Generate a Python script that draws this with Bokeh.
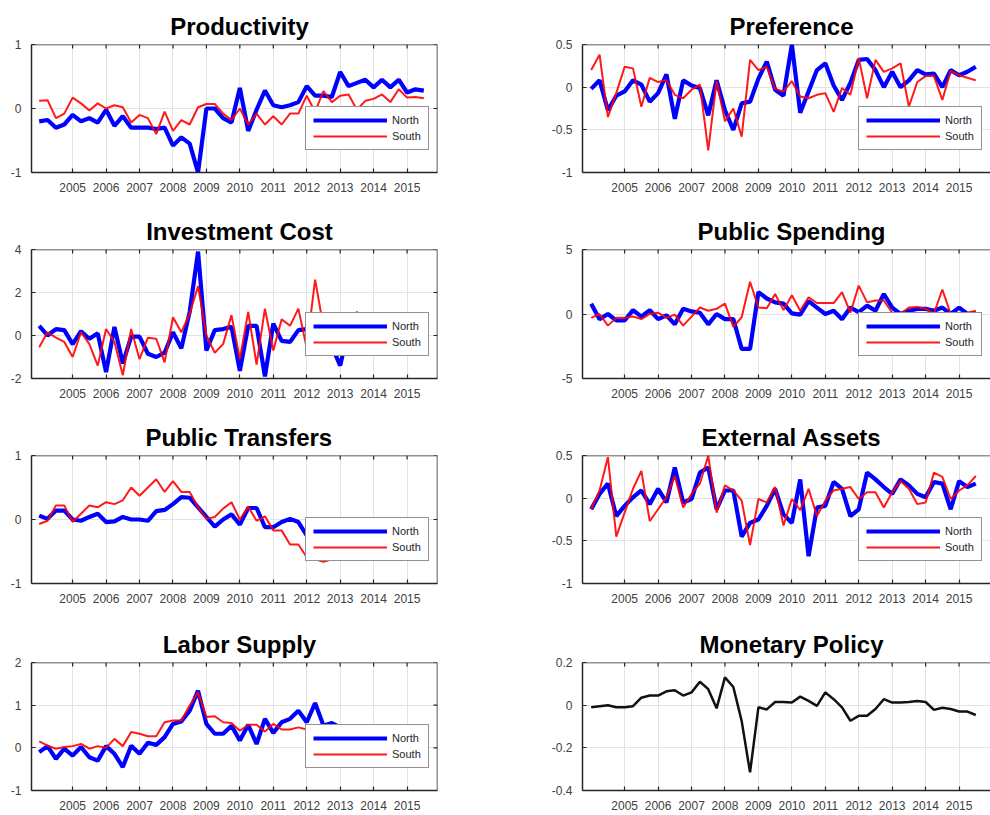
import math
from bokeh.plotting import figure
from bokeh.models import Range1d, FixedTicker, Legend, LegendItem, Span
from bokeh.layouts import column, row
from bokeh.embed import file_html
from bokeh.resources import INLINE

# ---------------- data ----------------
quarters = [2004.0 + 0.25 * i for i in range(47)]   # 2004Q1 ... 2015Q3
year_ticks = [2005, 2006, 2007, 2008, 2009, 2010, 2011, 2012, 2013, 2014, 2015]
year_labels = ["2005", "2006", "2007", "2008", "2009", "2010", "2011", "2012", "2013", "2014", "2015"]

prod_north = [-0.20, -0.18, -0.30, -0.25, -0.10, -0.20, -0.15, -0.22, -0.02, -0.27, -0.12, -0.30, -0.30, -0.30, -0.32, -0.30,
              -0.58, -0.45, -0.55, -1.00, 0.00, 0.00, -0.15, -0.22, 0.32, -0.35, -0.02, 0.28, 0.05, 0.02, 0.05, 0.10,
              0.35, 0.20, 0.20, 0.18, 0.57, 0.35, 0.40, 0.45, 0.33, 0.45, 0.33, 0.45, 0.25, 0.30, 0.28]
prod_south = [0.12, 0.13, -0.15, -0.08, 0.17, 0.08, -0.03, 0.08, 0.00, 0.05, 0.02, -0.22, -0.10, -0.15, -0.40, -0.05,
              -0.35, -0.18, -0.25, 0.02, 0.07, 0.07, -0.08, -0.18, 0.00, -0.25, -0.08, -0.25, -0.12, -0.25, -0.08, -0.08,
              0.20, -0.05, 0.27, 0.10, 0.20, 0.22, -0.02, 0.12, 0.15, 0.22, 0.10, 0.30, 0.17, 0.18, 0.16]

pref_north = [-0.02, 0.08, -0.27, -0.10, -0.05, 0.08, 0.03, -0.17, -0.07, 0.15, -0.37, 0.08, 0.02, -0.01, -0.33, 0.08,
              -0.27, -0.50, -0.19, -0.17, 0.10, 0.30, -0.03, -0.10, 0.50, -0.30, -0.05, 0.20, 0.28, 0.02, -0.15, 0.05,
              0.32, 0.33, 0.20, 0.00, 0.18, 0.00, 0.08, 0.20, 0.15, 0.16, 0.00, 0.20, 0.14, 0.18, 0.24]
pref_south = [0.20, 0.38, -0.35, -0.07, 0.24, 0.22, -0.23, 0.11, 0.06, 0.08, -0.09, -0.13, -0.03, 0.03, -0.74, 0.07,
              -0.40, -0.25, -0.58, 0.32, 0.20, 0.24, -0.02, -0.05, 0.07, -0.11, -0.13, -0.09, -0.07, -0.29, -0.01, -0.09,
              0.34, -0.13, 0.32, 0.18, 0.22, 0.28, -0.23, 0.06, 0.13, 0.13, -0.15, 0.19, 0.14, 0.11, 0.08]

inv_north = [0.45, 0.00, 0.30, 0.25, -0.40, 0.20, -0.15, 0.10, -1.70, 0.40, -1.30, -0.05, -0.05, -0.85, -1.00, -0.80,
             0.15, -0.60, 1.10, 3.90, -0.70, 0.25, 0.30, 0.40, -1.65, 0.45, 0.45, -1.90, 0.55, -0.25, -0.30, 0.25,
             0.30, 0.20, 0.00, -0.50, -1.40, 0.30, 0.00, 0.20, -0.20, 0.10, 0.30, -0.10, 0.20, 0.00, 0.10]
inv_south = [-0.55, 0.15, -0.10, -0.30, -1.00, 0.15, -0.40, -1.40, 0.30, -0.30, -1.85, 0.30, -1.10, -0.10, -0.15, -1.25,
             0.85, 0.15, 1.00, 2.30, 0.00, -0.80, -0.40, 0.95, -1.10, 1.10, -1.35, 1.25, -0.70, 0.75, 0.45, 1.25,
             -0.60, 2.60, 0.40, -0.20, 0.30, 0.60, 1.10, 0.40, 0.00, 0.30, -0.20, 0.20, 0.50, 0.10, 0.30]

ps_north = [0.80, -0.40, 0.00, -0.50, -0.50, 0.30, -0.20, 0.30, -0.40, -0.10, -0.80, 0.40, 0.20, 0.10, -0.80, 0.00,
            -0.40, -0.40, -2.70, -2.70, 1.70, 1.20, 0.90, 0.80, 0.05, -0.05, 1.00, 0.50, 0.00, 0.25, -0.40, 0.50,
            0.15, 0.65, 0.25, 1.55, 0.50, 0.00, 0.25, 0.40, 0.40, 0.25, 0.50, 0.00, 0.50, 0.00, 0.10]
ps_south = [-0.30, 0.00, -0.90, -0.30, -0.30, -0.20, -0.40, 0.00, 0.10, -0.30, -0.05, -0.90, -0.20, 0.50, 0.25, 0.40,
            0.80, -1.00, -0.25, 2.50, 0.50, 0.45, 1.55, 0.30, 1.45, 0.25, 1.30, 0.85, 0.85, 0.85, 1.70, 0.10,
            2.20, 0.90, 1.05, 1.05, 0.10, 0.00, 0.50, 0.55, 0.40, 0.05, 1.90, 0.00, 0.00, 0.10, 0.25]

pt_north = [0.06, 0.01, 0.14, 0.14, 0.00, -0.02, 0.04, 0.09, -0.04, -0.03, 0.04, 0.00, 0.00, -0.02, 0.13, 0.15,
            0.24, 0.35, 0.34, 0.19, 0.04, -0.11, 0.00, 0.08, -0.08, 0.18, 0.18, -0.12, -0.12, -0.04, 0.01, -0.04,
            -0.25, -0.30, -0.35, -0.38, -0.40, -0.42, -0.43, -0.45, -0.46, -0.47, -0.48, -0.48, -0.49, -0.50, -0.50]
pt_south = [-0.07, -0.02, 0.22, 0.22, -0.04, 0.09, 0.22, 0.19, 0.27, 0.24, 0.30, 0.50, 0.37, 0.50, 0.63, 0.43,
            0.60, 0.43, 0.43, 0.19, 0.01, 0.04, 0.17, 0.27, 0.00, 0.20, -0.02, 0.05, -0.17, -0.17, -0.39, -0.39,
            -0.59, -0.62, -0.66, -0.62, -0.60, -0.60, -0.58, -0.58, -0.55, -0.55, -0.55, -0.53, -0.52, -0.50, -0.50]

ea_north = [-0.13, 0.05, 0.17, -0.21, -0.09, 0.01, 0.09, -0.07, 0.11, -0.05, 0.36, -0.05, -0.01, 0.30, 0.36, -0.13,
            0.09, 0.09, -0.45, -0.29, -0.25, -0.09, 0.11, -0.19, -0.29, 0.22, -0.68, -0.11, -0.09, 0.19, 0.11, -0.21,
            -0.13, 0.30, 0.22, 0.13, 0.05, 0.22, 0.15, 0.05, 0.01, 0.19, 0.17, -0.13, 0.20, 0.13, 0.17]
ea_south = [-0.13, 0.09, 0.48, -0.45, -0.17, 0.11, 0.32, -0.27, -0.13, 0.01, 0.26, -0.11, 0.05, 0.17, 0.50, -0.17,
            0.15, 0.09, -0.03, -0.55, -0.01, -0.05, 0.13, -0.32, -0.01, -0.14, 0.11, -0.21, -0.03, 0.09, 0.11, 0.13,
            -0.01, 0.07, 0.07, -0.11, 0.07, 0.20, 0.11, -0.07, -0.05, 0.30, 0.25, -0.01, 0.09, 0.15, 0.26]

ls_north = [-0.10, 0.04, -0.26, -0.02, -0.18, 0.02, -0.22, -0.30, 0.04, -0.14, -0.45, 0.05, -0.14, 0.12, 0.07, 0.25,
            0.56, 0.62, 0.87, 1.34, 0.56, 0.33, 0.33, 0.52, 0.17, 0.54, 0.09, 0.68, 0.35, 0.60, 0.68, 0.87,
            0.60, 1.05, 0.52, 0.58, 0.48, 0.40, 0.30, 0.35, 0.20, 0.25, 0.15, 0.20, 0.10, 0.15, 0.10]
ls_south = [0.15, 0.05, -0.02, 0.02, 0.04, 0.09, -0.02, 0.04, 0.00, 0.21, 0.04, 0.37, 0.33, 0.27, 0.27, 0.60,
            0.64, 0.64, 0.99, 1.30, 0.72, 0.74, 0.60, 0.58, 0.40, 0.54, 0.54, 0.38, 0.56, 0.43, 0.43, 0.48,
            0.43, 0.40, 0.42, 0.38, 0.40, 0.35, 0.36, 0.33, 0.30, 0.30, 0.28, 0.25, 0.25, 0.22, 0.20]

monetary = [-0.010, -0.005, 0.000, -0.010, -0.010, -0.005, 0.035, 0.045, 0.045, 0.065, 0.070, 0.045, 0.060, 0.110, 0.075, -0.015,
            0.130, 0.085, -0.075, -0.315, -0.010, -0.020, 0.015, 0.015, 0.012, 0.040, 0.020, -0.003, 0.060, 0.028, -0.010, -0.073,
            -0.050, -0.050, -0.018, 0.028, 0.012, 0.012, 0.015, 0.020, 0.015, -0.022, -0.012, -0.018, -0.030, -0.030, -0.046]

# y axis: ticks (first/last = limits) and tick labels per panel
prod_yticks, prod_ylabels = [-1, 0, 1], ["-1", "0", "1"]
pref_yticks, pref_ylabels = [-1, -0.5, 0, 0.5], ["-1", "-0.5", "0", "0.5"]
inv_yticks, inv_ylabels = [-2, 0, 2, 4], ["-2", "0", "2", "4"]
ps_yticks, ps_ylabels = [-5, 0, 5], ["-5", "0", "5"]
pt_yticks, pt_ylabels = [-1, 0, 1], ["-1", "0", "1"]
ea_yticks, ea_ylabels = [-1, -0.5, 0, 0.5], ["-1", "-0.5", "0", "0.5"]
ls_yticks, ls_ylabels = [-1, 0, 1, 2], ["-1", "0", "1", "2"]
mp_yticks, mp_ylabels = [-0.4, -0.2, 0, 0.2], ["-0.4", "-0.2", "0", "0.2"]

series_names = ["North", "South"]

# ---------------- styling ----------------
FONT = "Liberation Sans"
TITLE_PX = 24
AX_COLOR = "#262626"
LBL_COLOR = "#404040"
GRID_COLOR = "#e3e3e3"

# advance widths (1/1000 em) of Liberation Sans Bold, used to centre titles with an offset
BOLD_W = {" ": 278, "A": 722, "C": 722, "E": 667, "I": 278, "L": 611, "M": 833, "P": 667, "S": 667, "T": 611,
          "a": 556, "b": 611, "c": 556, "d": 611, "e": 556, "f": 333, "g": 611, "i": 278, "l": 278, "m": 889,
          "n": 611, "o": 611, "p": 611, "r": 389, "s": 556, "t": 333, "u": 611, "v": 556, "x": 556, "y": 556}

ROW_SPECS = [  # (height, top border, bottom border)
    (206, 44, 34),
    (206, 43, 34),
    (206, 43, 35),
    (197, 44, 25),
]


def style_axis(ax, standoff=10):
    ax.axis_line_color = AX_COLOR
    ax.axis_line_width = 1.5
    ax.major_tick_line_color = AX_COLOR
    ax.major_tick_line_width = 1.2
    ax.major_tick_in = 4
    ax.major_tick_out = 0
    ax.minor_tick_line_color = None
    ax.major_label_text_font = FONT
    ax.major_label_text_color = LBL_COLOR
    ax.major_label_text_font_size = "12px"
    ax.major_label_standoff = standoff


def make_panel(title, yticks, ylabels, north=None, south=None, single=None, col=0, rowi=0):
    h, mbt, mbb = ROW_SPECS[rowi]
    if col == 0:
        w, mbl, mbr = 447, 31, 10
        xr = Range1d(2003.77, 2015.91)
        title_c = 208
        leg_x = 274
    else:
        w, mbl, mbr = 543, 135, 0
        xr = Range1d(2003.74, 2015.94)
        title_c = 209
        leg_x = 276
    p = figure(width=w, height=h, x_range=xr, y_range=Range1d(yticks[0], yticks[-1]),
               toolbar_location=None, output_backend="svg",
               min_border_left=mbl, min_border_right=mbr, min_border_top=mbt, min_border_bottom=mbb,
               background_fill_color="white", border_fill_color="white", outline_line_color=None)
    tw = sum(BOLD_W.get(ch, 556) for ch in title) / 1000.0 * TITLE_PX
    p.title.text = title
    p.title.align = "left"
    p.title.offset = title_c - tw / 2.0
    p.title.text_font = FONT
    p.title.text_font_size = "%dpx" % TITLE_PX
    p.title.text_font_style = "bold"
    p.title.text_color = "#000000"
    p.title.standoff = 10

    p.xaxis.ticker = FixedTicker(ticks=year_ticks)
    p.xaxis.major_label_overrides = {t: s for t, s in zip(year_ticks, year_labels)}
    p.yaxis.ticker = FixedTicker(ticks=yticks)
    p.yaxis.major_label_overrides = {t: s for t, s in zip(yticks, ylabels)}
    style_axis(p.xaxis[0], 10)
    style_axis(p.yaxis[0], 10)

    p.xgrid.ticker = FixedTicker(ticks=year_ticks)
    p.ygrid.ticker = FixedTicker(ticks=yticks)
    for g in (p.xgrid[0], p.ygrid[0]):
        g.grid_line_color = GRID_COLOR
        g.grid_line_width = 1

    # box: top edge (and right edge for left column), with inward ticks
    p.add_layout(Span(location=yticks[-1], dimension="width", line_color=AX_COLOR, line_width=1.5))
    p.ray(x=year_ticks, y=[yticks[-1]] * len(year_ticks), length=4, length_units="screen",
          angle=-math.pi / 2, line_color=AX_COLOR, line_width=1.2)
    if col == 0:
        p.add_layout(Span(location=xr.end, dimension="height", line_color=AX_COLOR, line_width=1.5))
        p.ray(x=[xr.end] * len(yticks), y=yticks, length=4, length_units="screen",
              angle=math.pi, line_color=AX_COLOR, line_width=1.2)

    if single is not None:
        p.line(quarters, single, line_color="#111111", line_width=2.5)
    else:
        rn = p.line(quarters, north, line_color="#0000ff", line_width=4.2)
        rs = p.line(quarters, south, line_color="#ff0000", line_width=2, line_alpha=0.9)
        leg = Legend(items=[LegendItem(label=series_names[0], renderers=[rn]),
                            LegendItem(label=series_names[1], renderers=[rs])],
                     location=(leg_x, 22),
                     border_line_color=AX_COLOR, border_line_width=1.5,
                     background_fill_color="white", background_fill_alpha=1.0,
                     label_text_font=FONT, label_text_font_size="11px", label_text_color="#262626",
                     glyph_width=74, glyph_height=12, label_height=12, label_standoff=5,
                     padding=7, spacing=4, margin=0)
        p.add_layout(leg)
    return p


p1 = make_panel("Productivity", prod_yticks, prod_ylabels, prod_north, prod_south, col=0, rowi=0)
p2 = make_panel("Preference", pref_yticks, pref_ylabels, pref_north, pref_south, col=1, rowi=0)
p3 = make_panel("Investment Cost", inv_yticks, inv_ylabels, inv_north, inv_south, col=0, rowi=1)
p4 = make_panel("Public Spending", ps_yticks, ps_ylabels, ps_north, ps_south, col=1, rowi=1)
p5 = make_panel("Public Transfers", pt_yticks, pt_ylabels, pt_north, pt_south, col=0, rowi=2)
p6 = make_panel("External Assets", ea_yticks, ea_ylabels, ea_north, ea_south, col=1, rowi=2)
p7 = make_panel("Labor Supply", ls_yticks, ls_ylabels, ls_north, ls_south, col=0, rowi=3)
p8 = make_panel("Monetary Policy", mp_yticks, mp_ylabels, single=monetary, col=1, rowi=3)

p = column(row(p1, p2), row(p3, p4), row(p5, p6), row(p7, p8))

open("out.html", "w").write(file_html(p, INLINE))
